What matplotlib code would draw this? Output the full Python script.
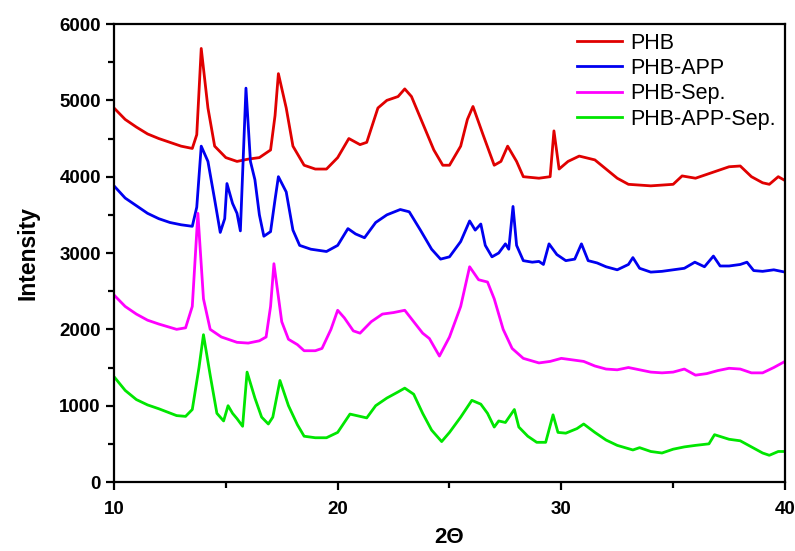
import numpy as np
import matplotlib
matplotlib.use('Agg')
import matplotlib.pyplot as plt
from matplotlib.ticker import MultipleLocator

plt.rcParams['font.family'] = ['Liberation Sans', 'DejaVu Sans']

# PHB
phb_x = [10, 10.5, 11, 11.5, 12, 12.5, 13, 13.5, 13.7, 13.9, 14.2, 14.5, 15, 15.5, 16, 16.5,
         17, 17.2, 17.35, 17.7, 18, 18.5, 19, 19.5, 20, 20.5, 21, 21.3, 21.8, 22.2, 22.7, 23,
         23.3, 23.8, 24.3, 24.7, 25, 25.5, 25.8, 26.05, 26.5, 27, 27.3, 27.6, 28, 28.3, 29,
         29.5, 29.67, 29.9, 30.3, 30.8, 31.5, 32, 32.5, 33, 34, 35, 35.4, 36, 36.5, 37, 37.5,
         38, 38.5, 39, 39.3, 39.7, 40]
phb_y = [4900, 4750, 4650, 4560, 4500, 4450, 4400, 4370, 4550, 5680, 4900, 4400, 4250, 4200, 4230, 4250,
         4350, 4800, 5350, 4900, 4400, 4150, 4100, 4100, 4250, 4500, 4420, 4450, 4900, 5000, 5050, 5150,
         5050, 4700, 4350, 4150, 4150, 4400, 4750, 4920, 4550, 4150, 4200, 4400, 4200, 4000, 3980,
         4000, 4600, 4100, 4200, 4270, 4220, 4100, 3980, 3900, 3880, 3900, 4010, 3980, 4030, 4080, 4130,
         4140, 4000, 3920, 3900, 4000, 3950]

# PHB-APP
app_x = [10, 10.5, 11, 11.5, 12, 12.5, 13, 13.5, 13.7, 13.9, 14.2, 14.5, 14.75, 14.95, 15.05, 15.3,
         15.5, 15.65, 15.9, 16.1, 16.3, 16.5, 16.7, 17, 17.2, 17.35, 17.7, 18, 18.3, 18.8, 19.5,
         20, 20.46, 20.8, 21.2, 21.7, 22.2, 22.8, 23.2, 23.7, 24.2, 24.6, 25, 25.5, 25.9, 26.15,
         26.4, 26.6, 26.9, 27.2, 27.5, 27.65, 27.84, 28, 28.3, 28.7, 29, 29.2, 29.45, 29.8, 30.2,
         30.6, 30.9, 31.2, 31.6, 32, 32.5, 33, 33.2, 33.5, 34, 34.5, 35, 35.5, 35.97, 36.4, 36.8,
         37.1, 37.5, 38, 38.3, 38.6, 39, 39.5, 40]
app_y = [3880, 3720, 3620, 3520, 3450, 3400, 3370, 3350, 3600, 4400, 4200, 3700, 3270, 3450, 3910, 3650,
         3520, 3290, 5160, 4200, 3960, 3500, 3220, 3280, 3700, 4000, 3800, 3300, 3100, 3050, 3020,
         3100, 3320, 3250, 3200, 3400, 3500, 3570, 3540, 3300, 3050, 2920, 2950, 3150, 3420, 3300,
         3380, 3100, 2950, 3000, 3120, 3050, 3610, 3100, 2900, 2880, 2890, 2850, 3120, 2980, 2900,
         2920, 3120, 2900, 2870, 2820, 2780, 2850, 2940, 2800, 2750, 2760, 2780, 2800, 2880, 2820, 2960,
         2830, 2830, 2850, 2880, 2770, 2760, 2780, 2750]

# PHB-Sep.
sep_x = [10, 10.5, 11, 11.5, 12, 12.8, 13.2, 13.5, 13.75, 14, 14.3, 14.8, 15.5, 16, 16.5, 16.8,
         17, 17.15, 17.5, 17.8, 18.2, 18.5, 19, 19.3, 19.7, 20, 20.3, 20.7, 21, 21.5, 22, 22.5,
         23, 23.4, 23.8, 24.1, 24.55, 25, 25.5, 25.9, 26.3, 26.7, 27, 27.4, 27.8, 28.3, 29, 29.5,
         30, 30.5, 31, 31.5, 32, 32.5, 33, 33.5, 34, 34.5, 35, 35.5, 36, 36.5, 37, 37.5, 38, 38.5,
         39, 39.5, 40]
sep_y = [2450, 2300, 2200, 2120, 2070, 2000, 2020, 2300, 3520, 2400, 2000, 1900, 1830, 1820, 1850, 1900,
         2300, 2860, 2100, 1870, 1800, 1720, 1720, 1750, 2000, 2250, 2150, 1980, 1950, 2100, 2200, 2220,
         2250, 2100, 1950, 1880, 1650, 1900, 2300, 2820, 2650, 2620, 2400, 2000, 1750, 1620, 1560, 1580,
         1620, 1600, 1580, 1520, 1480, 1470, 1500, 1470, 1440, 1430, 1440, 1480, 1400, 1420, 1460, 1490,
         1480, 1430, 1430, 1500, 1580]

# PHB-APP-Sep.
aps_x = [10, 10.5, 11, 11.5, 12, 12.8, 13.2, 13.5, 13.8, 14, 14.3, 14.6, 14.9, 15.1, 15.3, 15.5,
         15.75, 15.95, 16.3, 16.6, 16.9, 17.1, 17.42, 17.8, 18.2, 18.5, 19, 19.5, 20, 20.55, 21,
         21.3, 21.7, 22.2, 22.7, 23, 23.4, 23.8, 24.2, 24.65, 25, 25.5, 26, 26.4, 26.7, 27, 27.2,
         27.5, 27.9, 28.1, 28.5, 28.9, 29.3, 29.63, 29.85, 30.2, 30.7, 31, 31.5, 32, 32.5, 33.2,
         33.5, 34, 34.5, 35, 35.5, 36, 36.6, 36.85, 37.5, 38, 38.5, 39, 39.3, 39.7, 40]
aps_y = [1380, 1200, 1080, 1010, 960, 870, 860, 950, 1500, 1930, 1400, 900, 800, 1000, 900, 830,
         730, 1440, 1100, 850, 760, 850, 1330, 1000, 750, 600, 580, 580, 650, 890, 860,
         840, 1000, 1100, 1180, 1230, 1150, 900, 680, 530, 650, 850, 1070, 1020, 900, 720, 800,
         780, 950, 720, 600, 520, 520, 880, 650, 640, 700, 760, 650, 550, 480, 420,
         450, 400, 380, 430, 460, 480, 500, 620, 560, 540, 460, 380, 350, 400, 400]

names = ['PHB', 'PHB-APP', 'PHB-Sep.', 'PHB-APP-Sep.']
colors = ['#e00000', '#0000f0', '#ff00ff', '#00e600']
series = [(phb_x, phb_y), (app_x, app_y), (sep_x, sep_y), (aps_x, aps_y)]

fig = plt.figure(figsize=(7.95, 5.51), dpi=100)
ax = fig.add_axes([0.1434, 0.1252, 0.8440, 0.8312])

for (xs, ys), name, c in zip(series, names, colors):
    ax.plot(xs, ys, color=c, lw=2.0, label=name)

ax.set_xlim(10, 40)
ax.set_ylim(0, 6000)
ax.xaxis.set_major_locator(MultipleLocator(10))
ax.xaxis.set_minor_locator(MultipleLocator(5))
ax.yaxis.set_major_locator(MultipleLocator(1000))
ax.yaxis.set_minor_locator(MultipleLocator(500))
ax.tick_params(which='major', direction='out', length=6, width=1.6, labelsize=13.5)
ax.tick_params(which='minor', direction='out', length=4, width=1.6)
ax.tick_params(axis='x', which='major', pad=8)
for lab in ax.get_xticklabels() + ax.get_yticklabels():
    lab.set_fontweight('bold')
for s in ax.spines.values():
    s.set_linewidth(1.6)

ax.set_xlabel('2Θ', fontsize=16, fontweight='bold', labelpad=6)
ax.set_ylabel('Intensity', fontsize=16.5, fontweight='bold', labelpad=14)

ax.legend(loc='upper right', frameon=False, fontsize=15.5, handlelength=2.1,
          handletextpad=0.4, labelspacing=0.2, borderaxespad=0.2, borderpad=0.2)

fig.savefig('out.png', dpi=100)
